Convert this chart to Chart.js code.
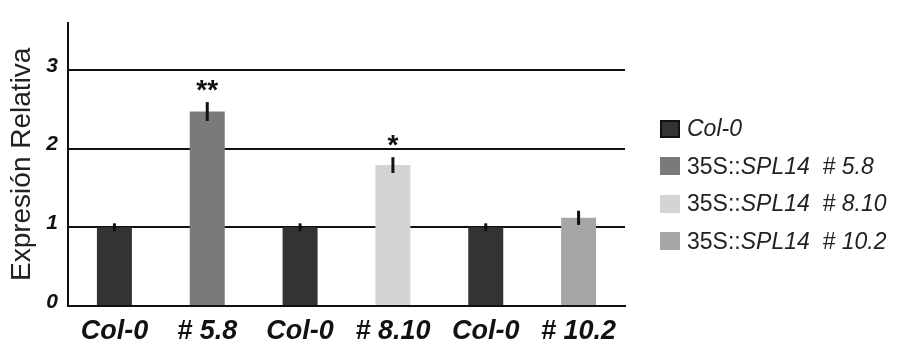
<!DOCTYPE html>
<html>
<head>
<meta charset="utf-8">
<script src="https://cdn.jsdelivr.net/npm/chart.js@4/dist/chart.umd.min.js"></script>
<style>
  body { margin: 0; background: #fff; }
  #wrap { position: relative; width: 899px; height: 342px; }
  #legend { position: absolute; left: 660px; top: 110px; font-family: "Liberation Sans", Arial, sans-serif; font-size: 23px; color: #222; }
  #legend .row { height: 37.5px; display: flex; align-items: center; }
  #legend .box { width: 20px; height: 18px; margin-right: 7px; box-sizing: border-box; }
  #legend i { font-style: italic; }
</style>
</head>
<body>
<div id="wrap">
  <canvas id="chart" width="899" height="342"></canvas>
  <div id="legend"></div>
</div>
<script>
// barras: una categoría por línea, cada serie solo en su columna
const labels = ['Col-0', '# 5.8', 'Col-0', '# 8.10', 'Col-0', '# 10.2'];

const col0 = [1.0, null, 1.0, null, 1.0, null];
const col0Err = [0.05, null, 0.05, null, 0.05, null];
const l58 = [null, 2.47, null, null, null, null];
const l58Err = [null, 0.12, null, null, null, null];
const l810 = [null, null, null, 1.79, null, null];
const l810Err = [null, null, null, 0.1, null, null];
const l102 = [null, null, null, null, null, 1.12];
const l102Err = [null, null, null, null, null, 0.09];

const stars = ['', '**', '', '*', '', ''];

// textos de la leyenda (35S:: recto, el resto en cursiva)
const legendHtml = [
  '<i>Col-0</i>',
  '35S::<i>SPL14 &nbsp;# 5.8</i>',
  '35S::<i>SPL14 &nbsp;# 8.10</i>',
  '35S::<i>SPL14 &nbsp;# 10.2</i>'
];

const errors = [col0Err, l58Err, l810Err, l102Err];

const errorBars = {
  id: 'errorBars',
  afterDatasetsDraw(chart) {
    const ctx = chart.ctx;
    const y = chart.scales.y;
    ctx.save();
    ctx.strokeStyle = '#111';
    ctx.lineWidth = 3;
    chart.data.datasets.forEach((ds, d) => {
      const meta = chart.getDatasetMeta(d);
      meta.data.forEach((bar, i) => {
        const v = ds.data[i];
        if (v == null) return;
        const e = errors[d][i];
        ctx.beginPath();
        ctx.moveTo(bar.x, y.getPixelForValue(v - e));
        ctx.lineTo(bar.x, y.getPixelForValue(v + e));
        ctx.stroke();
        if (stars[i]) {
          ctx.fillStyle = '#111';
          ctx.font = 'bold 28px "Liberation Sans", Arial, sans-serif';
          ctx.textAlign = 'center';
          ctx.textBaseline = 'alphabetic';
          ctx.fillText(stars[i], bar.x, y.getPixelForValue(v + e) - 3);
        }
      });
    });
    ctx.restore();
  }
};

const ctx = document.getElementById('chart');
const chart = new Chart(ctx, {
  type: 'bar',
  data: {
    labels: labels,
    datasets: [
      { label: 'Col-0', data: col0, backgroundColor: '#333333' },
      { label: '35S::SPL14 # 5.8', data: l58, backgroundColor: '#7a7a7a' },
      { label: '35S::SPL14 # 8.10', data: l810, backgroundColor: '#d4d4d4' },
      { label: '35S::SPL14 # 10.2', data: l102, backgroundColor: '#a6a6a6' }
    ]
  },
  options: {
    responsive: false,
    animation: false,
    categoryPercentage: 1,
    barPercentage: 0.377,
    layout: { padding: { top: 19, right: 274, left: 0, bottom: 0 } },
    plugins: {
      legend: { display: false },
      tooltip: { enabled: false }
    },
    scales: {
      x: {
        stacked: true,
        grid: { display: false },
        border: { color: '#111', width: 2 },
        ticks: {
          color: '#111',
          padding: 1,
          font: { family: '"Liberation Sans", Arial, sans-serif', size: 27, weight: 'bold', style: 'italic' }
        },
        afterFit(scale) { scale.height = 36; }
      },
      y: {
        min: 0,
        max: 3.6,
        grid: { color: '#111', lineWidth: 2, drawTicks: false },
        border: { color: '#111', width: 2 },
        ticks: {
          stepSize: 1,
          includeBounds: false,
          color: '#111',
          padding: 10,
          labelOffset: -4,
          font: { family: '"Liberation Sans", Arial, sans-serif', size: 21, weight: 'bold', style: 'italic' }
        },
        title: {
          display: true,
          text: 'Expresión Relativa',
          color: '#222',
          padding: { top: 5, bottom: 0 },
          font: { family: '"Liberation Sans", Arial, sans-serif', size: 28 }
        },
        afterFit(scale) { scale.width = 68; }
      }
    }
  },
  plugins: [errorBars]
});

// leyenda en HTML a partir de los datasets
const legend = document.getElementById('legend');
chart.data.datasets.forEach((ds, i) => {
  const row = document.createElement('div');
  row.className = 'row';
  const box = document.createElement('span');
  box.className = 'box';
  box.style.background = ds.backgroundColor;
  if (i === 0) box.style.border = '2px solid #111';
  const txt = document.createElement('span');
  txt.innerHTML = legendHtml[i];
  row.appendChild(box);
  row.appendChild(txt);
  legend.appendChild(row);
});
</script>
</body>
</html>
